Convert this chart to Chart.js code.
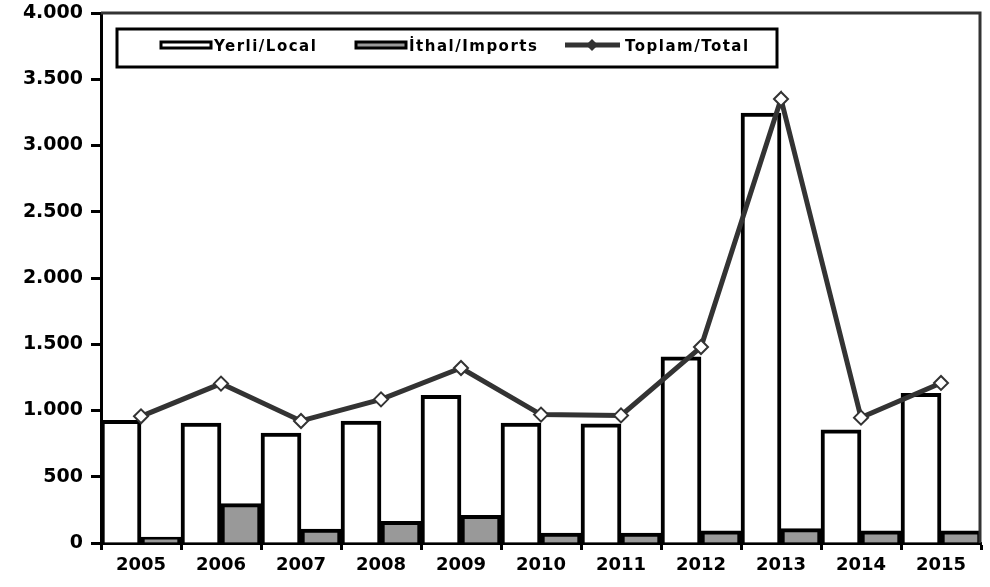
<!DOCTYPE html>
<html>
<head>
<meta charset="utf-8">
<script src="https://cdn.jsdelivr.net/npm/chart.js@4.4.1/dist/chart.umd.min.js"></script>
<style>
  html, body { margin: 0; padding: 0; background: #fff; }
  #wrap { width: 990px; height: 587px; }
</style>
</head>
<body>
<div id="wrap"><canvas id="chart" width="990" height="587"></canvas></div>
<script>
const years = ["2005", "2006", "2007", "2008", "2009", "2010", "2011", "2012", "2013", "2014", "2015"];
const localValues = [925, 905, 830, 920, 1115, 905, 900, 1405, 3245, 855, 1130];
const importValues = [45, 297, 106, 164, 208, 75, 75, 91, 108, 91, 91];
const totalValues = [956, 1203, 921, 1084, 1321, 969, 963, 1479, 3351, 946, 1208];
const legendLabels = ["Yerli/Local", "İthal/Imports", "Toplam/Total"];

// 4000 -> "4.000"
function trFormat(v) {
    return String(v).replace(/\B(?=(\d{3})+(?!\d))/g, ".");
}

// frame on top/right + boxed legend inside the plot
const framePlugin = {
    id: "frame",
    afterDraw(chart) {
        const c = chart.ctx;
        const a = chart.chartArea;
        c.save();
        c.strokeStyle = "#333";
        c.lineWidth = 3;
        c.beginPath();
        c.moveTo(a.left, a.top);
        c.lineTo(a.right - 1, a.top);
        c.lineTo(a.right - 1, a.bottom);
        c.stroke();

        // legend box
        c.strokeStyle = "#000";
        c.lineWidth = 3;
        c.strokeRect(117, 29, 660, 38);

        c.font = "bold 15px 'DejaVu Sans'";
        c.letterSpacing = "1.5px";
        c.textBaseline = "middle";
        const ty = 47;

        // Yerli swatch
        c.fillStyle = "#fff";
        c.fillRect(161, 42, 50, 6);
        c.lineWidth = 3;
        c.strokeStyle = "#000";
        c.strokeRect(161, 42, 50, 6);
        c.fillStyle = "#000";
        c.fillText(legendLabels[0], 214, ty);

        // Ithal swatch
        c.fillStyle = "#999";
        c.fillRect(356, 42, 50, 6);
        c.strokeRect(356, 42, 50, 6);
        c.fillStyle = "#000";
        c.fillText(legendLabels[1], 409, ty);

        // Toplam line
        c.strokeStyle = "#333";
        c.lineWidth = 5;
        c.beginPath();
        c.moveTo(565, 45);
        c.lineTo(620, 45);
        c.stroke();
        c.fillStyle = "#333";
        c.beginPath();
        c.moveTo(592, 39);
        c.lineTo(598, 45);
        c.lineTo(592, 51);
        c.lineTo(586, 45);
        c.closePath();
        c.fill();
        c.fillStyle = "#000";
        c.fillText(legendLabels[2], 625, ty);
        c.restore();
    }
};

const ctx = document.getElementById("chart").getContext("2d");

new Chart(ctx, {
    data: {
        labels: years,
        datasets: [
            {
                type: "line",
                label: legendLabels[2],
                data: totalValues,
                borderColor: "#333",
                borderWidth: 5,
                pointStyle: "rectRot",
                pointRadius: 7,
                pointBackgroundColor: "#fff",
                pointBorderColor: "#333",
                pointBorderWidth: 2,
                tension: 0,
                order: 0
            },
            {
                type: "bar",
                label: legendLabels[0],
                data: localValues,
                backgroundColor: "#fff",
                borderColor: "#000",
                borderWidth: 4,
                barPercentage: 1,
                categoryPercentage: 1,
                order: 1
            },
            {
                type: "bar",
                label: legendLabels[1],
                data: importValues,
                backgroundColor: "#999",
                borderColor: "#000",
                borderWidth: 4,
                barPercentage: 1,
                categoryPercentage: 1,
                order: 1
            }
        ]
    },
    options: {
        responsive: false,
        animation: false,
        layout: { padding: { top: 13, right: 3, left: 0, bottom: 0 } },
        plugins: {
            legend: { display: false },
            tooltip: { enabled: false }
        },
        scales: {
            x: {
                offset: true,
                grid: {
                    offset: true,
                    drawOnChartArea: false,
                    drawTicks: true,
                    tickLength: 7,
                    tickWidth: 3,
                    color: "#000"
                },
                border: { display: true, width: 3, color: "#000" },
                ticks: {
                    color: "#000",
                    padding: 5,
                    font: { family: "'DejaVu Sans'", weight: "bold", size: 18 }
                },
                afterFit: s => { s.height = 44; }
            },
            y: {
                min: 0,
                max: 4000,
                grid: {
                    drawOnChartArea: false,
                    drawTicks: true,
                    tickLength: 10,
                    tickWidth: 3,
                    color: "#000"
                },
                border: { display: true, width: 3, color: "#000" },
                ticks: {
                    stepSize: 500,
                    color: "#000",
                    padding: 8,
                    font: { family: "'DejaVu Sans'", weight: "bold", size: 19 },
                    callback: v => trFormat(v)
                },
                afterFit: s => {
                    s.width = 101;
                    s.paddingTop = 0;
                    s.paddingBottom = 0;
                }
            }
        }
    },
    plugins: [framePlugin]
});
</script>
</body>
</html>
